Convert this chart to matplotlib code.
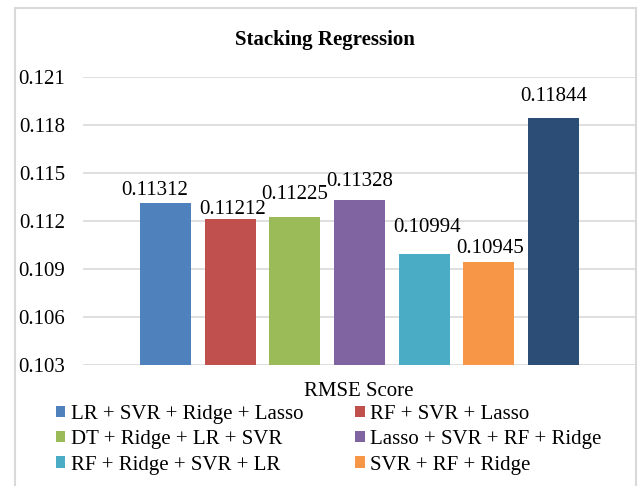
import matplotlib
matplotlib.use("Agg")
import matplotlib.pyplot as plt
from matplotlib.patches import Rectangle, Patch

plt.rcParams['font.family'] = ['Liberation Serif', 'DejaVu Serif']

# RMSE of each stacked ensemble
models = ['LR + SVR + Ridge + Lasso', 'RF + SVR + Lasso', 'DT + Ridge + LR + SVR',
          'Lasso + SVR + RF + Ridge', 'RF + Ridge + SVR + LR', 'SVR + RF + Ridge', '']
rmse = [0.11312, 0.11212, 0.11225, 0.11328, 0.10994, 0.10945, 0.11844]
colors = ['#4F81BD', '#C0504D', '#9BBB59', '#8064A2', '#4BACC6', '#F79646', '#2C4D75']
yticks = [0.103, 0.106, 0.109, 0.112, 0.115, 0.118, 0.121]

# label nudges (pixels) so the value texts don't collide
label_dx = [-11, 2, 0, 0, 3, 1, 0]
label_dy = [12.5, 9.5, 22, 19, 26, 13, 21]

W, H = 638, 486
fig = plt.figure(figsize=(W / 100, H / 100), dpi=100)
ax = fig.add_axes([83 / W, 1 - 365 / H, (636 - 83) / W, (365 - 76.7) / H])

x = list(range(len(rmse)))
ax.bar(x, rmse, width=0.787, color=colors, bottom=0, zorder=3)
ax.set_ylim(0.103, 0.121)
ax.set_xlim(-1.28, 7.28)
ax.set_yticks(yticks)
ax.set_yticklabels(['%.3f' % t for t in yticks], fontsize=15)
ax.tick_params(axis='y', length=0, pad=13)
ax.set_xticks([])
for s in ax.spines.values():
    s.set_visible(False)
ax.grid(axis='y', color='#D9D9D9', linewidth=1.2, zorder=0)

for i, v in enumerate(rmse):
    ax.annotate('%.5f' % v, (x[i], v), xytext=(label_dx[i] * 0.72, label_dy[i] * 0.72),
                textcoords='offset points', ha='center', va='center', fontsize=15)

# chart frame and titles
fig.patches.append(Rectangle((15 / W, -0.05), (636 - 15) / W, 1.05 - 8 / H,
                             transform=fig.transFigure, fill=False,
                             edgecolor='#D9D9D9', linewidth=1.5))
fig.text(325 / W, 1 - 40 / H, 'Stacking Regression', ha='center', va='center',
         fontsize=15, fontweight='bold')
fig.text(359 / W, 1 - 391 / H, 'RMSE Score', ha='center', va='center', fontsize=15)

# legend reads across rows, so feed it column by column
order = [0, 2, 4, 1, 3, 5]
handles = [Patch(facecolor=colors[i], label=models[i]) for i in order]
fig.legend(handles=handles, ncol=2, loc='upper left',
           bbox_to_anchor=(56 / W, 1 - 405 / H), frameon=False, fontsize=15,
           handlelength=0.45, handleheight=0.45, handletextpad=0.25,
           columnspacing=2.5, labelspacing=0.3, borderpad=0, borderaxespad=0)

fig.savefig('out.png', dpi=100)
